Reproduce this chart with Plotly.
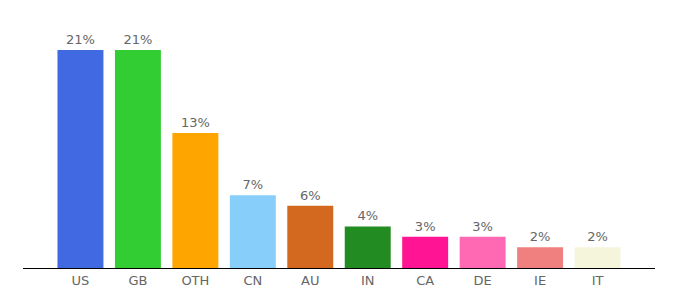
import plotly.graph_objects as go

categories = ["US", "GB", "OTH", "CN", "AU", "IN", "CA", "DE", "IE", "IT"]
values = [21, 21, 13, 7, 6, 4, 3, 3, 2, 2]
labels = ["21%", "21%", "13%", "7%", "6%", "4%", "3%", "3%", "2%", "2%"]
colors = ["#4169E1", "#32CD32", "#FFA500", "#87CEFA", "#D2691E",
          "#228B22", "#FF1493", "#FF69B4", "#F08080", "#F5F5DC"]

fig = go.Figure(go.Bar(
    x=categories, y=values, text=labels, textposition="outside",
    marker=dict(color=colors, line=dict(width=0)),
    width=0.8,
    textfont=dict(color="#666666", size=13, family="DejaVu Sans"),
    cliponaxis=False,
    hoverinfo="skip",
))
fig.update_layout(
    width=680, height=300,
    margin=dict(l=23, r=25, t=20, b=32),
    paper_bgcolor="white", plot_bgcolor="white",
    showlegend=False,
    font=dict(family="DejaVu Sans", size=13, color="#666666"),
    xaxis=dict(range=[-1, 10], showline=True, linecolor="black", linewidth=1,
               ticks="", showgrid=False, zeroline=False,
               tickfont=dict(color="#666666", size=13)),
    yaxis=dict(range=[0, 23.9], visible=False, showgrid=False, zeroline=False),
)
fig.write_html("out.html")
